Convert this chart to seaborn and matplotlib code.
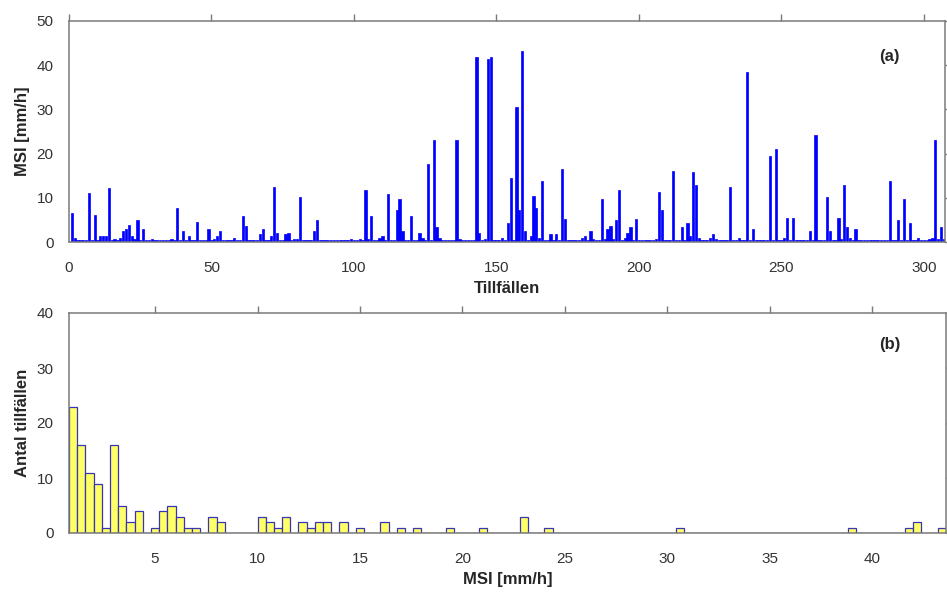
import matplotlib
matplotlib.use("Agg")
import matplotlib.pyplot as plt
import numpy as np
import pandas as pd
import seaborn as sns

# ---------------- data ----------------
event_no = list(range(1, 308))
msi = [
    6.6, 0.9, 0.5, 0.5, 0.5, 0.5, 11.0, 0.5, 6.2, 0.5,
    1.4, 1.4, 1.4, 12.2, 0.5, 0.6, 0.5, 0.9, 2.6, 3.0,
    3.8, 1.4, 0.6, 5.0, 0.5, 3.0, 0.5, 0.5, 0.6, 0.5,
    0.5, 0.5, 0.5, 0.5, 0.5, 0.6, 0.5, 7.8, 0.5, 2.5,
    0.5, 1.4, 0.5, 0.5, 4.5, 0.5, 0.5, 0.5, 3.0, 0.5,
    0.6, 1.4, 2.5, 0.5, 0.5, 0.5, 0.5, 0.9, 0.5, 0.5,
    5.8, 3.7, 0.5, 0.5, 0.5, 0.5, 1.7, 3.0, 0.5, 0.5,
    1.4, 12.5, 2.1, 0.5, 0.5, 1.7, 2.1, 0.5, 0.6, 0.6,
    10.2, 0.5, 0.5, 0.5, 0.5, 2.5, 5.0, 0.5, 0.5, 0.5,
    0.5, 0.5, 0.5, 0.5, 0.5, 0.5, 0.5, 0.5, 0.6, 0.5,
    0.5, 0.6, 0.5, 11.8, 0.6, 5.8, 0.5, 0.5, 0.9, 1.4,
    0.5, 10.9, 0.5, 0.5, 7.3, 9.8, 2.5, 0.5, 0.5, 5.8,
    0.5, 0.5, 2.1, 0.9, 0.5, 17.7, 0.5, 23.0, 3.3, 0.9,
    0.5, 0.5, 0.5, 0.5, 0.5, 23.0, 0.6, 0.5, 0.5, 0.5,
    0.5, 0.5, 41.8, 2.1, 0.5, 0.6, 41.4, 41.8, 0.5, 0.5,
    0.5, 0.9, 0.5, 4.2, 14.5, 0.5, 30.6, 7.3, 43.3, 2.5,
    0.5, 1.4, 10.5, 7.8, 0.9, 13.8, 0.5, 0.5, 1.7, 0.5,
    1.7, 0.5, 16.5, 5.3, 0.5, 0.5, 0.5, 0.5, 0.5, 0.9,
    1.4, 0.5, 2.5, 0.6, 0.5, 0.5, 9.8, 0.6, 3.0, 3.7,
    0.6, 5.0, 11.7, 0.5, 0.9, 2.1, 3.3, 0.5, 5.3, 0.5,
    0.5, 0.5, 0.5, 0.5, 0.5, 0.6, 11.4, 7.3, 0.5, 0.5,
    0.5, 16.1, 0.5, 0.5, 3.3, 0.5, 4.2, 1.4, 15.8, 13.0,
    0.9, 0.5, 0.5, 0.5, 0.9, 1.7, 0.6, 0.5, 0.5, 0.5,
    0.5, 12.5, 0.5, 0.5, 0.9, 0.5, 0.5, 38.5, 0.5, 3.0,
    0.5, 0.5, 0.5, 0.5, 0.5, 19.4, 0.5, 21.0, 0.5, 0.5,
    0.9, 5.4, 0.5, 5.4, 0.5, 0.5, 0.5, 0.5, 0.5, 2.6,
    0.5, 24.2, 0.5, 0.5, 0.5, 10.2, 2.6, 0.5, 0.5, 5.4,
    0.6, 13.0, 3.3, 0.9, 0.5, 3.0, 0.5, 0.5, 0.5, 0.5,
    0.5, 0.5, 0.5, 0.5, 0.5, 0.5, 0.5, 13.8, 0.5, 0.5,
    5.0, 0.5, 9.8, 0.5, 4.2, 0.5, 0.5, 0.9, 0.5, 0.5,
    0.5, 0.6, 0.9, 23.0, 0.6, 3.3, 0.6,
]

hist_centers = [1.0, 1.4, 1.8, 2.2, 2.6, 3.0, 3.4, 3.8, 4.2, 5.0, 5.4, 5.8,
                6.2, 6.6, 7.0, 7.8, 8.2, 10.2, 10.6, 11.0, 11.4, 12.2, 12.6,
                13.0, 13.4, 14.2, 15.0, 16.2, 17.0, 17.8, 19.4, 21.0, 23.0,
                24.2, 30.6, 39.0, 41.8, 42.2, 43.4]
hist_counts = [23, 16, 11, 9, 1, 16, 5, 2, 4, 1, 4, 5,
               3, 1, 1, 3, 2, 3, 2, 1, 3, 2, 1,
               2, 2, 2, 1, 2, 1, 1, 1, 1, 3,
               1, 1, 1, 1, 2, 1]

top_xticks = [0, 50, 100, 150, 200, 250, 300]
top_yticks = [0, 10, 20, 30, 40, 50]
bot_xticks = [5, 10, 15, 20, 25, 30, 35, 40]
bot_yticks = [0, 10, 20, 30, 40]

# ---------------- style ----------------
sns.set_style("white")
plt.rcParams["font.family"] = ["Liberation Sans", "DejaVu Sans"]

SPINE = "#7a7a7a"
TICKLBL = "#333333"

fig = plt.figure(figsize=(9.47, 5.95), dpi=100)
ax1 = fig.add_axes([69 / 947, 1 - 242 / 595, 876 / 947, 221 / 595])
ax2 = fig.add_axes([69 / 947, 1 - 533 / 595, 877 / 947, 220 / 595])

df1 = pd.DataFrame({"Tillfälle": event_no, "MSI": msi})
sns.barplot(data=df1, x="Tillfälle", y="MSI", native_scale=True,
            color="#0000FF", saturation=1, width=0.8, errorbar=None,
            edgecolor="#0000FF", linewidth=0.5, ax=ax1)

df2 = pd.DataFrame({"MSI": hist_centers, "Antal": hist_counts})
edges = [round(0.8 + 0.4 * k, 2) for k in range(108)]
sns.histplot(data=df2, x="MSI", weights="Antal", bins=edges,
             color="#FFFF66", edgecolor="#3535B5", linewidth=0.9,
             alpha=1, ax=ax2)

ax1.set_xlim(0, 307.4)
ax1.set_ylim(0, 50)
ax1.set_xticks(top_xticks)
ax1.set_yticks(top_yticks)
ax1.set_xlabel("Tillfällen", fontsize=12, fontweight="bold", labelpad=4)
ax1.set_ylabel("MSI [mm/h]", fontsize=12, fontweight="bold", labelpad=5)
ax1.text(0.936, 0.84, "(a)", transform=ax1.transAxes, fontsize=12,
         fontweight="bold", ha="center", va="center")

ax2.set_xlim(0.8, 43.6)
ax2.set_ylim(0, 40)
ax2.set_xticks(bot_xticks)
ax2.set_yticks(bot_yticks)
ax2.set_xlabel("MSI [mm/h]", fontsize=12, fontweight="bold", labelpad=4)
ax2.set_ylabel("Antal tillfällen", fontsize=12, fontweight="bold", labelpad=5)
ax2.text(0.936, 0.855, "(b)", transform=ax2.transAxes, fontsize=12,
         fontweight="bold", ha="center", va="center")

for ax in (ax1, ax2):
    for sp in ax.spines.values():
        sp.set_visible(True)
        sp.set_color(SPINE)
        sp.set_linewidth(1.1)
    ax.tick_params(direction="out", top=True, right=True, length=5,
                   width=1.0, color=SPINE, labelcolor=TICKLBL,
                   labelsize=11)
    ax.tick_params(axis="x", pad=9)
    ax.tick_params(axis="y", pad=6)
    ax.grid(False)

fig.savefig("out.png", dpi=100)
